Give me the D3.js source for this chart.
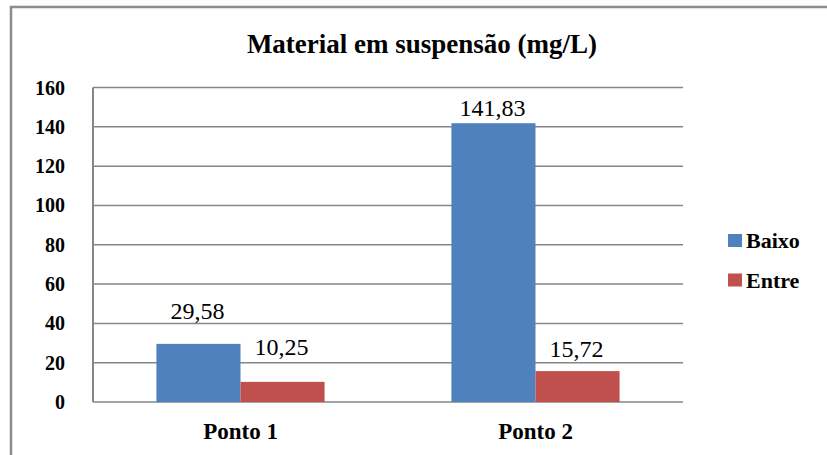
<!DOCTYPE html>
<html>
<head>
<meta charset="utf-8">
<script src="https://cdn.jsdelivr.net/npm/d3@7"></script>
</head>
<body style="margin:0">
<svg id="chart" width="827" height="455"></svg>
<script>
// data
const categories = ["Ponto 1", "Ponto 2"];
const seriesNames = ["Baixo", "Entre"];
const baixoValues = [29.58, 141.83];
const entreValues = [10.25, 15.72];
const yTicks = [0, 20, 40, 60, 80, 100, 120, 140, 160];

const colors = { "Baixo": "#4F81BD", "Entre": "#C0504D" };
// small per-label lift above the bar top (the original isn't consistent)
const labelLift = { "Baixo": [25, 7], "Entre": [27, 14] };
const fontFam = '"Liberation Serif", monospace';

const rows = categories.map((c, i) => ({
    cat: c,
    values: [
        { name: "Baixo", value: baixoValues[i], idx: i },
        { name: "Entre", value: entreValues[i], idx: i }
    ]
}));

const svg = d3.select("#chart");

// outer frame
svg.append("rect")
    .attr("x", 11).attr("y", 7)
    .attr("width", 840).attr("height", 470)
    .attr("fill", "none")
    .attr("stroke", "#8c8c8c")
    .attr("stroke-width", 2.5);

const plotLeft = 93, plotRight = 683, plotTop = 87.5, plotBottom = 402;

const y = d3.scaleLinear().domain([0, 160]).range([plotBottom, plotTop]);

const x0 = d3.scaleBand()
    .domain(categories)
    .range([plotLeft, plotRight])
    .paddingInner(0.43)
    .paddingOuter(0.215);

const x1 = d3.scaleBand()
    .domain(seriesNames)
    .range([0, x0.bandwidth()]);

// title
svg.append("text")
    .attr("x", 422).attr("y", 53)
    .attr("text-anchor", "middle")
    .attr("font-family", fontFam)
    .attr("font-size", 27)
    .attr("font-weight", "bold")
    .text("Material em suspensão (mg/L)");

// gridlines
svg.append("g")
    .selectAll("line")
    .data(yTicks)
    .join("line")
    .attr("x1", plotLeft).attr("x2", plotRight)
    .attr("y1", d => y(d)).attr("y2", d => y(d))
    .attr("stroke", "#868686")
    .attr("stroke-width", 1.5);

// y axis line
svg.append("line")
    .attr("x1", plotLeft).attr("x2", plotLeft)
    .attr("y1", plotTop).attr("y2", plotBottom)
    .attr("stroke", "#868686")
    .attr("stroke-width", 2);

// y tick labels
svg.append("g")
    .selectAll("text")
    .data(yTicks)
    .join("text")
    .attr("x", 65)
    .attr("y", d => y(d))
    .attr("dy", "0.35em")
    .attr("text-anchor", "end")
    .attr("font-family", fontFam)
    .attr("font-size", 20)
    .attr("font-weight", "bold")
    .text(d => d);

// bars
const groups = svg.append("g")
    .selectAll("g")
    .data(rows)
    .join("g")
    .attr("transform", d => `translate(${x0(d.cat)},0)`);

groups.selectAll("rect")
    .data(d => d.values)
    .join("rect")
    .attr("x", d => x1(d.name))
    .attr("width", x1.bandwidth())
    .attr("y", d => y(d.value))
    .attr("height", d => y(0) - y(d.value))
    .attr("fill", d => colors[d.name]);

// value labels
groups.selectAll("text")
    .data(d => d.values)
    .join("text")
    .attr("x", d => x1(d.name) + x1.bandwidth() / 2 - 1)
    .attr("y", d => y(d.value) - labelLift[d.name][d.idx])
    .attr("text-anchor", "middle")
    .attr("font-family", fontFam)
    .attr("font-size", 24)
    .text(d => d3.format(".2f")(d.value).replace(".", ","));

// category labels
svg.append("g")
    .selectAll("text")
    .data(categories)
    .join("text")
    .attr("x", d => x0(d) + x0.bandwidth() / 2)
    .attr("y", 439)
    .attr("text-anchor", "middle")
    .attr("font-family", fontFam)
    .attr("font-size", 23)
    .attr("font-weight", "bold")
    .text(d => d);

// legend
const legend = svg.append("g")
    .selectAll("g")
    .data(seriesNames)
    .join("g")
    .attr("transform", (d, i) => `translate(728,${234 + i * 39.5})`);

legend.append("rect")
    .attr("width", 14).attr("height", 13)
    .attr("fill", d => colors[d]);

legend.append("text")
    .attr("x", 18).attr("y", 14)
    .attr("font-family", fontFam)
    .attr("font-size", 22)
    .attr("font-weight", "bold")
    .text(d => d);
</script>
</body>
</html>
